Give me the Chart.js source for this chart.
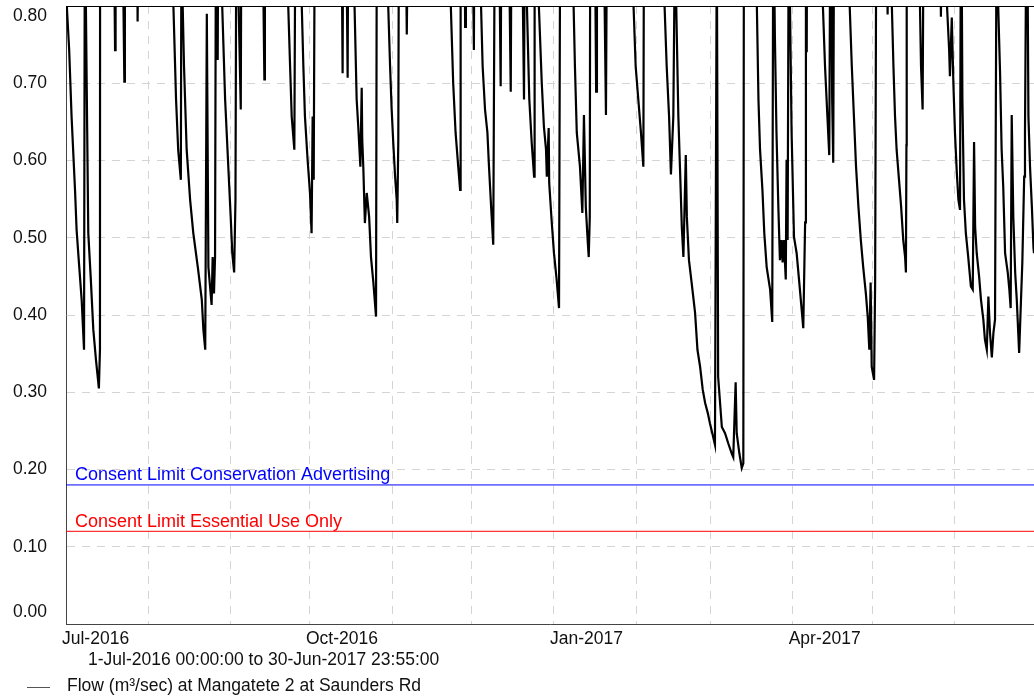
<!DOCTYPE html>
<html>
<head>
<meta charset="utf-8">
<script src="https://cdn.jsdelivr.net/npm/chart.js@4.4.1/dist/chart.umd.min.js"></script>
<style>
  html, body { margin: 0; padding: 0; background: #fff; }
</style>
</head>
<body>
<canvas id="flowChart" width="1034" height="696"></canvas>
<script>
// days since 1-Jul-2016 00:00 and flow (m3/sec) read off the hydrograph
// values above 0.80 are peaks that run off the top of the plot
const flowDays = [
  0.0, 0.3, 1.2, 2.1, 3.4, 4.0, 5.0, 5.9, 6.8, 7.2, 7.5, 8.0, 8.4, 9.3, 10.3, 11.3, 12.4, 12.8, 12.9,
  15.0, 17.8, 18.5, 18.7, 21.0, 22.0, 22.2, 26.8, 27.0, 27.3, 35.0,
  40.2, 40.5, 41.5, 42.3, 43.3, 43.6, 44.0, 44.5, 45.5, 46.8, 48.0, 49.7, 51.2, 51.8, 52.5,
  53.1, 53.7, 54.9, 55.3, 55.8, 56.2, 56.6, 57.2, 57.5, 58.6, 58.9, 60.0, 61.2, 62.1, 62.7,
  63.4, 63.9, 64.3, 64.8, 65.9, 66.2, 70.0, 73.8, 74.8, 75.0, 80.0,
  83.5, 83.8, 84.5, 85.1, 86.1, 86.6, 88.6, 88.9, 89.5, 90.1, 91.1, 92.0, 92.6, 93.0, 93.4, 93.9,
  100.0, 103.7, 104.3, 104.6, 105.4, 106.2, 106.5, 108.6, 108.8, 109.6, 110.2, 111.0, 111.5,
  111.7, 112.1, 112.7, 113.4, 114.3, 115.0, 115.9, 116.9, 117.3, 120.0,
  120.9, 121.5, 122.2, 122.8, 123.4, 124.1, 124.7, 124.9, 125.3, 125.6, 128.1, 128.5, 128.9, 135.0,
  145.0, 145.1, 146.0, 146.9, 147.9, 148.6, 148.8, 150.3, 150.5, 150.8, 153.0, 153.8, 154.1,
  156.4, 156.5, 157.1, 158.0, 158.9, 159.5, 160.3, 161.1, 161.8, 163.0, 163.9, 164.3,
  166.6, 167.7, 168.1, 171.6, 172.7, 173.1, 173.8, 174.7, 175.6, 176.5, 176.7,
  178.2, 178.3, 179.4, 180.2, 181.0, 181.3, 182.0, 182.2, 183.1, 184.0, 185.0, 185.9, 186.5, 189.0,
  191.3, 191.4, 191.9, 192.6, 193.8, 194.7, 195.3, 196.0, 196.7, 197.1, 197.5, 197.7,
  199.2, 199.9, 200.2, 202.4, 203.6, 204.1, 210.0,
  213.9, 214.0, 214.8, 215.8, 216.8, 217.7, 218.0, 222.0,
  225.6, 225.7, 226.5, 227.4, 228.1, 229.0, 229.9, 230.1, 230.9, 231.5, 232.2, 232.8, 233.7,
  234.1, 234.9, 235.9, 237.2, 238.1, 239.1, 240.1, 241.0, 242.0, 242.8, 243.7, 244.7,
  245.4, 245.9, 247.3, 248.5, 249.7, 251.0, 251.6, 252.5, 252.9, 253.9, 254.8, 255.4, 255.7, 258.0,
  260.4, 260.5, 261.1, 261.7, 262.6, 263.3, 264.2, 265.5, 266.3, 266.7, 267.3, 267.9, 268.6,
  269.2, 269.8, 270.2, 270.7, 271.4, 271.7, 272.1, 272.6,
  273.0, 273.6, 274.5, 275.5, 276.5, 277.4, 278.0, 278.7, 279.0, 279.3, 279.5, 285.0,
  285.3, 285.4, 286.2, 287.1, 287.8, 288.3, 288.9, 289.3, 289.7, 292.0,
  295.4, 295.5, 296.3, 297.1, 297.9, 298.8, 299.7, 300.6, 301.6, 302.3, 302.9, 303.4, 303.8,
  304.7, 305.1, 305.7, 309.5, 309.8, 310.1,
  311.3, 311.4, 312.0, 312.6, 313.2, 314.1, 314.9, 315.7, 316.4, 316.7, 316.9, 317.0,
  321.6, 322.0, 322.4, 323.0, 323.5, 329.6, 329.9, 330.2,
  332.1, 332.2, 333.0, 333.3, 334.0, 334.6, 335.2, 335.9, 336.5, 337.1, 337.5,
  338.0, 338.6, 339.3, 340.2, 341.2, 341.9, 342.4, 342.8, 343.4, 344.3, 345.0, 345.9, 346.5,
  347.2, 347.8, 348.4, 349.1, 349.7, 350.3, 351.1,
  351.5, 352.2, 352.8, 353.4, 354.1, 355.1, 355.7, 356.2, 356.6, 357.2, 357.9, 358.5, 359.4,
  360.1, 360.6, 361.3, 361.6, 362.3, 362.9, 363.5, 364.2, 364.8, 365.0
];
const flowValues = [
  0.95, 0.80, 0.743, 0.657, 0.562, 0.51, 0.462, 0.42, 0.355, 1.1, 0.80, 0.636, 0.506, 0.45, 0.381, 0.342, 0.305, 0.355, 1.3,
  1.4, 1.0, 0.743, 1.0, 1.0, 0.702, 1.0, 0.9, 0.78, 0.9, 1.5,
  1.0, 0.80, 0.679, 0.614, 0.575, 1.0, 0.80, 0.722, 0.614, 0.549, 0.506, 0.462, 0.42, 0.381, 0.355,
  0.79, 0.462, 0.413, 0.475, 0.428, 0.475, 1.0, 0.73, 1.0, 1.0, 0.80, 0.679, 0.592, 0.527, 0.48,
  0.455, 0.549, 1.0, 0.85, 0.666, 1.0, 1.4, 1.0, 0.705, 1.0, 1.3,
  1.0, 0.80, 0.722, 0.657, 0.614, 1.0, 1.0, 0.80, 0.722, 0.657, 0.601, 0.558, 0.506, 0.657, 0.575, 1.0,
  1.4, 1.0, 0.713, 1.0, 1.0, 0.707, 1.0, 1.0, 0.80, 0.679, 0.644, 0.592, 0.694,
  0.627, 0.592, 0.519, 0.558, 0.527, 0.475, 0.442, 0.398, 1.1, 1.3,
  1.0, 0.80, 0.722, 0.666, 0.623, 0.579, 0.549, 0.519, 0.627, 1.0, 0.9, 0.763, 0.9, 1.4,
  1.0, 0.80, 0.70, 0.636, 0.592, 0.562, 1.0, 0.9, 0.773, 0.9, 1.0, 0.743, 1.0,
  1.0, 0.80, 0.722, 0.666, 0.636, 0.592, 0.54, 0.491, 1.0, 1.0, 0.696, 1.0,
  1.0, 0.689, 1.0, 1.0, 0.679, 1.0, 0.80, 0.679, 0.623, 0.579, 1.0,
  1.0, 0.80, 0.70, 0.644, 0.614, 0.579, 0.642, 0.571, 0.523, 0.48, 0.446, 0.409, 1.1, 1.3,
  1.0, 0.80, 0.722, 0.636, 0.592, 0.532, 0.659, 0.54, 0.497, 0.475, 0.527, 1.0,
  1.0, 0.689, 1.0, 1.0, 0.659, 1.0, 1.4,
  1.0, 0.80, 0.722, 0.679, 0.636, 0.592, 1.0, 1.3,
  1.0, 0.80, 0.722, 0.657, 0.582, 0.657, 1.0, 0.80, 0.657, 0.592, 0.514, 0.475, 0.607,
  0.527, 0.471, 0.442, 0.403, 0.355, 0.333, 0.303, 0.286, 0.273, 0.26, 0.247, 0.232,
  0.9, 0.32, 0.255, 0.247, 0.234, 0.221, 0.216, 0.313, 0.247, 0.221, 0.202, 0.208, 1.2, 1.4,
  1.0, 0.80, 0.679, 0.614, 0.562, 0.506, 0.462, 0.433, 0.391, 0.95, 0.76, 0.636, 0.54,
  0.471, 0.497, 0.468, 0.497, 0.446, 0.601, 0.497, 1.0,
  0.80, 0.636, 0.501, 0.48, 0.442, 0.407, 0.383, 0.52, 1.0, 0.74, 1.0, 1.3,
  1.0, 0.80, 0.722, 0.657, 0.607, 1.0, 0.679, 0.597, 1.0, 1.3,
  1.0, 0.80, 0.722, 0.657, 0.592, 0.54, 0.497, 0.462, 0.428, 0.398, 0.355, 0.442, 0.333,
  0.316, 0.442, 1.1, 0.9, 0.789, 0.9,
  1.0, 0.80, 0.722, 0.657, 0.614, 0.575, 0.54, 0.497, 0.475, 0.455, 0.62, 1.0,
  1.0, 0.80, 0.722, 0.666, 1.0, 0.9, 0.786, 0.9,
  1.0, 0.80, 0.743, 0.709, 0.785, 0.70, 0.636, 0.584, 0.549, 0.536, 1.0,
  0.679, 0.549, 0.506, 0.475, 0.437, 0.433, 0.624, 0.514, 0.48, 0.45, 0.42, 0.394, 0.368,
  0.355, 0.424, 0.377, 0.345, 0.377, 0.394, 1.1,
  0.80, 0.714, 0.614, 0.566, 0.48, 0.455, 0.433, 0.409, 0.659, 0.527, 0.455, 0.42, 0.351,
  0.42, 0.468, 0.579, 0.636, 1.0, 0.657, 0.592, 0.54, 0.487, 0.48
];

// consent limits (m3/sec), drawn across the whole record
const limitDays = [0, 365];
const conservationLimit = 0.18;
const essentialLimit = 0.12;

// month gridlines (days since 1-Jul-2016) and their labels
const monthStartDays = [0, 31, 62, 92, 123, 153, 184, 215, 243, 274, 304, 335];
const monthLabels = ['Jul-2016', '', '', 'Oct-2016', '', '', 'Jan-2017', '', '', 'Apr-2017', '', ''];
const yTicks = [0, 0.1, 0.2, 0.3, 0.4, 0.5, 0.6, 0.7, 0.8];

const FONT = '"Liberation Sans", Arial, sans-serif';
Chart.defaults.font.family = FONT;

const flowPoints = flowDays.map((d, i) => ({ x: d, y: flowValues[i] }));
const limitLine = v => limitDays.map(d => ({ x: d, y: v }));

// frame, y labels, limit captions, period caption and legend
const hydroDecor = {
  id: 'hydroDecor',
  afterDraw(chart) {
    const { ctx, chartArea: a, scales: { y } } = chart;
    ctx.save();
    ctx.strokeStyle = '#000';
    ctx.lineWidth = 1;
    ctx.beginPath();
    ctx.moveTo(a.left, a.top + 0.5);
    ctx.lineTo(a.right, a.top + 0.5);
    ctx.stroke();

    ctx.font = '17.5px ' + FONT;
    ctx.fillStyle = '#111';
    ctx.textAlign = 'right';
    ctx.textBaseline = 'middle';
    yTicks.forEach(v => {
      let py = y.getPixelForValue(v);
      py = Math.min(Math.max(py, a.top + 10.5), a.bottom - 12);
      ctx.fillText(v.toFixed(2), a.left - 19, py);
    });

    ctx.textAlign = 'left';
    ctx.textBaseline = 'alphabetic';
    ctx.font = '18px ' + FONT;
    ctx.fillStyle = '#0000ff';
    ctx.fillText('Consent Limit Conservation Advertising', a.left + 9, y.getPixelForValue(conservationLimit) - 4.5);
    ctx.fillStyle = '#ff0000';
    ctx.fillText('Consent Limit Essential Use Only', a.left + 9, y.getPixelForValue(essentialLimit) - 4.5);

    ctx.font = '17.5px ' + FONT;
    ctx.fillStyle = '#111';
    ctx.textBaseline = 'middle';
    ctx.fillText('1-Jul-2016 00:00:00 to 30-Jun-2017 23:55:00', 88, 660);

    ctx.strokeStyle = '#555';
    ctx.beginPath();
    ctx.moveTo(27, 687.5);
    ctx.lineTo(50, 687.5);
    ctx.stroke();
    ctx.fillText('Flow (m\u00b3/sec) at Mangatete 2 at Saunders Rd', 67, 686);
    ctx.restore();
  }
};

new Chart(document.getElementById('flowChart'), {
  type: 'line',
  data: {
    datasets: [{
      label: 'Flow (m\u00b3/sec) at Mangatete 2 at Saunders Rd',
      data: flowPoints,
      borderColor: '#000',
      borderWidth: 2.2,
      pointRadius: 0,
      tension: 0,
      clip: 0
    }, {
      label: 'Consent Limit Conservation Advertising',
      data: limitLine(conservationLimit),
      borderColor: '#0000ff',
      borderWidth: 1,
      pointRadius: 0
    }, {
      label: 'Consent Limit Essential Use Only',
      data: limitLine(essentialLimit),
      borderColor: '#ff0000',
      borderWidth: 1,
      pointRadius: 0
    }]
  },
  options: {
    responsive: false,
    animation: false,
    layout: { padding: { top: 6, left: 0, right: 0, bottom: 0 } },
    plugins: {
      legend: { display: false },
      tooltip: { enabled: false }
    },
    scales: {
      x: {
        type: 'linear',
        min: 0,
        max: 365,
        afterBuildTicks: axis => { axis.ticks = monthStartDays.map(v => ({ value: v })); },
        afterFit: axis => { axis.height = 72; },
        grid: { color: '#d4d4d4', drawTicks: false },
        border: { color: '#444', width: 1, dash: [8, 7] },
        ticks: {
          autoSkip: false,
          maxRotation: 0,
          align: 'start',
          labelOffset: -4,
          padding: 4.5,
          color: '#111',
          font: { size: 17.5 },
          callback: (v, i) => monthLabels[i]
        }
      },
      y: {
        min: 0,
        max: 0.8,
        afterBuildTicks: axis => { axis.ticks = yTicks.map(v => ({ value: v })); },
        afterFit: axis => { axis.width = 66; },
        grid: { color: '#d4d4d4', drawTicks: false },
        border: { color: '#444', width: 1, dash: [8, 7] },
        ticks: { display: false }
      }
    }
  },
  plugins: [hydroDecor]
});
</script>
</body>
</html>
